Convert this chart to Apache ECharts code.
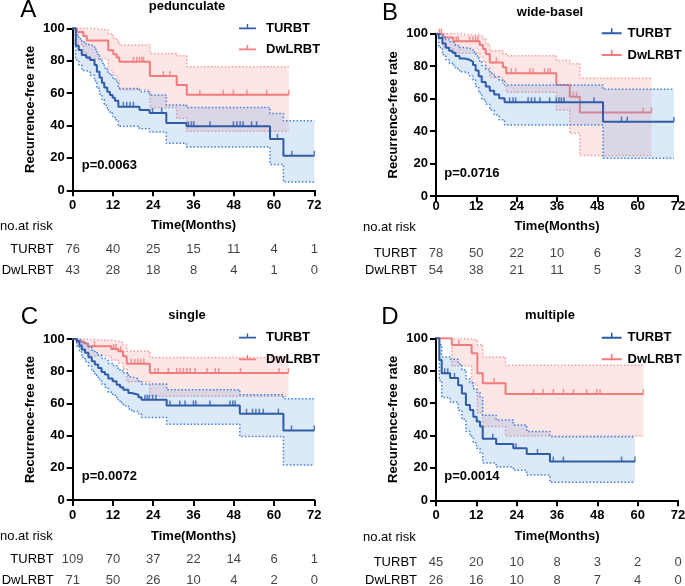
<!DOCTYPE html>
<html><head><meta charset="utf-8">
<script src="https://cdn.jsdelivr.net/npm/echarts@6/dist/echarts.min.js"></script>
<style>html,body{margin:0;padding:0;background:#fff}#c{width:685px;height:586px}</style>
</head><body><div id="c"></div>
<script>
// ---------- shared ----------
const xTicks = [0, 12, 24, 36, 48, 60, 72];
const groups = ['TURBT', 'DwLRBT'];

// ---------- Panel A : pedunculate ----------
const aT_time  = [0, 0.9, 1.8, 2.7, 4.0, 5.2, 6.5, 7.2, 8.0, 8.7, 9.4, 10.3, 11.1, 11.9, 12.6, 13.6, 19.9, 22.9, 27.9, 33.9, 58.8, 62.8];
const aT_surv  = [100, 89.3, 86.6, 83.5, 82.0, 80.4, 77.3, 73.2, 69.7, 66.4, 63.5, 60.8, 58.8, 57.1, 55.3, 51.5, 49.6, 47.7, 41.6, 39.5, 31.7, 21.4];
const aT_upper = [100, 96.0, 93.5, 91.5, 90.0, 89.0, 87.0, 84.0, 81.0, 78.5, 75.5, 73.0, 71.0, 69.5, 67.5, 62.9, 61.0, 58.8, 52.6, 51.1, 47.4, 42.9];
const aT_lower = [100, 80.5, 77.5, 74.0, 73.0, 71.0, 67.5, 63.0, 59.5, 56.0, 52.5, 49.5, 47.5, 45.5, 43.5, 39.5, 38.0, 36.0, 29.0, 26.8, 16.0, 5.2];
const aT_end   = 72;
const aT_cens  = [15.1, 16.1, 17.1, 18.1, 23.8, 26.5, 34.5, 35.4, 36.1, 40.9, 47.9, 48.9, 49.9, 50.8, 53.3, 54.8, 61.0, 65.3, 72];
const aD_time  = [0, 1.2, 3.2, 4.2, 10.6, 12.1, 13.1, 13.9, 23.0, 31.0, 34.0];
const aD_surv  = [100, 97.7, 95.3, 92.4, 86.5, 84.0, 82.0, 79.3, 70.5, 65.0, 59.0];
const aD_upper = [100, 100, 100, 99.0, 96.5, 93.8, 92.0, 89.7, 84.5, 83.0, 76.3];
const aD_lower = [100, 90.0, 85.0, 81.0, 74.0, 71.0, 68.5, 62.0, 51.0, 44.5, 36.5];
const aD_end   = 64.4;
const aD_cens  = [18.1, 19.1, 19.9, 20.6, 21.1, 27.0, 29.0, 37.9, 44.9, 47.9, 51.9, 57.8, 64.4];
const aRisk_T  = [76, 40, 25, 15, 11, 4, 1];
const aRisk_D  = [43, 28, 18, 8, 4, 1, 0];

// ---------- Panel B : wide-basel ----------
const bT_time  = [0, 0.8, 1.9, 2.9, 3.9, 4.9, 5.8, 7.0, 8.5, 10.0, 11.0, 11.8, 12.7, 13.6, 14.8, 16.0, 17.3, 18.8, 20.4, 49.7];
const bT_surv  = [100, 97.4, 94.0, 91.4, 89.5, 88.2, 86.3, 84.7, 83.9, 82.8, 80.7, 77.4, 73.8, 70.3, 67.5, 64.8, 62.5, 60.2, 57.7, 45.8];
const bT_upper = [100, 99.4, 98.0, 96.3, 95.0, 94.2, 92.8, 91.5, 91.0, 90.3, 88.8, 86.3, 83.3, 80.4, 78.0, 75.6, 73.5, 71.3, 68.4, 65.7];
const bT_lower = [100, 91.5, 87.0, 84.0, 82.0, 80.5, 78.5, 76.5, 75.5, 74.0, 71.5, 67.5, 63.5, 59.5, 56.5, 53.0, 50.0, 47.0, 43.7, 23.2];
const bT_end   = 70.8;
const bT_cens  = [21.9, 22.9, 23.7, 27.4, 28.4, 29.4, 30.9, 33.8, 35.8, 36.6, 37.3, 38.1, 47.0, 55.2, 56.9, 70.8];
const bD_time  = [0, 2.1, 5.1, 13.0, 14.0, 14.8, 16.0, 19.9, 20.9, 35.8, 39.8, 42.8];
const bD_surv  = [100, 97.7, 95.3, 93.0, 90.6, 87.5, 82.3, 79.3, 75.7, 68.4, 61.2, 51.5];
const bD_upper = [100, 100, 99.2, 98.5, 96.7, 93.6, 89.5, 87.8, 86.4, 83.5, 81.5, 72.5];
const bD_lower = [100, 91.5, 88.0, 85.5, 82.5, 79.0, 73.0, 69.5, 64.0, 53.0, 38.6, 25.0];
const bD_end   = 64.1;
const bD_cens  = [1.0, 1.6, 6.0, 6.6, 10.0, 11.0, 11.8, 12.5, 18.0, 22.4, 23.7, 27.9, 28.9, 32.3, 33.3, 34.0, 40.8, 41.8, 61.6, 64.1];
const bRisk_T  = [78, 50, 22, 10, 6, 3, 2];
const bRisk_D  = [54, 38, 21, 11, 5, 3, 0];

// ---------- Panel C : single ----------
const cT_time  = [0, 1.2, 2.0, 2.7, 3.7, 4.7, 5.7, 6.6, 7.6, 8.6, 9.6, 10.6, 11.9, 13.1, 14.1, 15.1, 16.6, 17.6, 19.6, 20.5, 28.0, 49.8, 62.8];
const cT_surv  = [100, 98.6, 96.0, 93.5, 91.4, 88.7, 86.2, 84.1, 82.0, 79.5, 77.9, 75.4, 73.7, 71.6, 70.0, 68.5, 66.5, 65.4, 63.8, 62.3, 58.7, 53.6, 43.2];
const cT_upper = [100, 100, 99.3, 98.0, 96.8, 95.0, 93.0, 91.5, 90.0, 88.0, 86.8, 84.8, 83.5, 81.8, 80.5, 79.0, 76.5, 75.3, 73.5, 72.0, 68.5, 65.4, 62.9];
const cT_lower = [100, 95.5, 92.0, 88.5, 86.0, 83.0, 80.0, 77.5, 75.0, 72.0, 70.0, 67.0, 65.0, 62.5, 60.5, 58.5, 56.5, 55.0, 53.5, 51.3, 47.1, 39.5, 21.8];
const cT_end   = 72;
const cT_cens  = [21.5, 22.2, 22.8, 23.8, 24.8, 29.0, 31.9, 33.5, 36.0, 36.7, 40.9, 46.9, 47.7, 48.4, 51.8, 53.6, 54.6, 55.6, 56.8, 61.3, 65.2, 72];
const cD_time  = [0, 1.4, 3.2, 4.5, 11.5, 13.6, 15.0, 16.1, 23.0];
const cD_surv  = [100, 98.6, 97.2, 95.5, 93.8, 92.4, 89.3, 84.7, 78.9];
const cD_upper = [100, 100, 99.8, 99.2, 98.5, 98.0, 96.3, 92.4, 88.5];
const cD_lower = [100, 95.0, 92.0, 89.5, 87.0, 85.0, 81.5, 73.5, 64.4];
const cD_end   = 64.3;
const cD_cens  = [6.5, 12.2, 12.9, 14.3, 17.5, 18.5, 19.5, 20.3, 21.2, 24.5, 25.5, 28.5, 31.0, 32.0, 33.0, 34.0, 35.0, 36.5, 40.0, 42.5, 43.5, 50.0, 61.5, 64.3];
const cRisk_T  = [109, 70, 37, 22, 14, 6, 1];
const cRisk_D  = [71, 50, 26, 10, 4, 2, 0];

// ---------- Panel D : multiple ----------
const dT_time  = [0, 1.0, 1.7, 4.2, 6.6, 7.7, 8.9, 10.1, 11.1, 12.1, 13.1, 13.9, 17.9, 23.0, 27.0, 33.9];
const dT_surv  = [100, 86.6, 78.4, 75.5, 71.0, 66.0, 58.8, 55.8, 51.6, 48.6, 45.5, 38.0, 34.8, 32.1, 28.6, 23.9];
const dT_upper = [100, 96.0, 88.5, 87.0, 84.0, 80.5, 75.0, 72.5, 69.0, 66.5, 63.5, 52.5, 49.6, 46.5, 42.4, 39.3];
const dT_lower = [100, 74.0, 63.5, 60.5, 55.5, 50.0, 42.5, 39.5, 35.5, 32.0, 29.0, 23.0, 20.5, 18.5, 15.6, 11.1];
const dT_end   = 59.2;
const dT_cens  = [2.6, 3.5, 5.5, 16.9, 23.8, 30.2, 34.9, 37.9, 55.2, 59.2];
const dD_time  = [0, 4.7, 10.6, 12.3, 13.9, 20.7];
const dD_surv  = [100, 95.9, 90.7, 78.4, 72.2, 65.6];
const dD_upper = [100, 99.5, 99.0, 96.0, 88.5, 83.3];
const dD_lower = [100, 83.0, 72.0, 54.0, 45.5, 39.7];
const dD_end   = 61.7;
const dD_cens  = [6.8, 17.3, 29.0, 31.9, 34.9, 37.9, 40.9, 44.8, 47.8, 48.8, 61.7];
const dRisk_T  = [45, 20, 10, 8, 3, 2, 0];
const dRisk_D  = [26, 16, 10, 8, 7, 4, 0];

// ---------- layout / styles ----------
const FONT = '"Liberation Sans", Arial, Helvetica, sans-serif';
const BLUE = '#2E5CA8', BLUE_DOT = '#3C7FE0', BLUE_FILL = 'rgba(110,165,232,0.24)';
const PINK = '#F37B7B', PINK_DOT = '#F59C9C', PINK_FILL = 'rgba(245,140,140,0.22)';

const panels = [
  { letter: 'A', title: 'pedunculate', p: 'p=0.0063',
    T: {time: aT_time, surv: aT_surv, upper: aT_upper, lower: aT_lower, end: aT_end, cens: aT_cens},
    D: {time: aD_time, surv: aD_surv, upper: aD_upper, lower: aD_lower, end: aD_end, cens: aD_cens},
    riskT: aRisk_T, riskD: aRisk_D,
    L: {left: 72.7, top: 28.3, width: 241.6, height: 162, rTop: 238.5, rH: 42, xMargin: 9, xNameGap: 29,
        legLeft: 239, legTop: 21.3, legW: 17, legGap: 7, legPad: 5,
        letter: [28.3, 10.8], title: [187, 6.5], pv: [81.7, 165.5], nar: [0, 226.7]} },
  { letter: 'B', title: 'wide-basel', p: 'p=0.0716',
    T: {time: bT_time, surv: bT_surv, upper: bT_upper, lower: bT_lower, end: bT_end, cens: bT_cens},
    D: {time: bD_time, surv: bD_surv, upper: bD_upper, lower: bD_lower, end: bD_end, cens: bD_cens},
    riskT: bRisk_T, riskD: bRisk_D,
    L: {left: 436, top: 33.7, width: 242, height: 162.3, rTop: 244.5, rH: 34, xMargin: 4, xNameGap: 24,
        legLeft: 601.7, legTop: 26.3, legW: 21.6, legGap: 7.7, legPad: 0,
        letter: [390, 13.5], title: [550, 12], pv: [444.3, 173], nar: [363, 227]} },
  { letter: 'C', title: 'single', p: 'p=0.0072',
    T: {time: cT_time, surv: cT_surv, upper: cT_upper, lower: cT_lower, end: cT_end, cens: cT_cens},
    D: {time: cD_time, surv: cD_surv, upper: cD_upper, lower: cD_lower, end: cD_end, cens: cD_cens},
    riskT: cRisk_T, riskD: cRisk_D,
    L: {left: 72.7, top: 339, width: 241.6, height: 161, rTop: 548.5, rH: 42, xMargin: 9, xNameGap: 29.5,
        legLeft: 239, legTop: 330.7, legW: 17, legGap: 7.6, legPad: 5,
        letter: [29.3, 317.5], title: [187, 315], pv: [81.7, 476.5], nar: [0, 536.7]} },
  { letter: 'D', title: 'multiple', p: 'p=0.0014',
    T: {time: dT_time, surv: dT_surv, upper: dT_upper, lower: dT_lower, end: dT_end, cens: dT_cens},
    D: {time: dD_time, surv: dD_surv, upper: dD_upper, lower: dD_lower, end: dD_end, cens: dD_cens},
    riskT: dRisk_T, riskD: dRisk_D,
    L: {left: 436, top: 338.3, width: 242, height: 162, rTop: 554, rH: 35, xMargin: 9, xNameGap: 29.5,
        legLeft: 601.7, legTop: 330.7, legW: 21.6, legGap: 7.6, legPad: 0,
        letter: [390, 317], title: [550, 315], pv: [444.3, 476.5], nar: [363, 537]} }
];

function survAt(g, t) {
  let v = g.surv[0];
  for (let i = 0; i < g.time.length; i++) if (g.time[i] <= t) v = g.surv[i];
  return v;
}

function bandRender(fill) {
  return function (params, api) {
    if (params.dataIndexInside !== 0) return;
    const n = params.dataInsideLength;
    const top = [], bot = [];
    for (let i = 0; i < n - 1; i++) {
      const t0 = api.value(0, i), t1 = api.value(0, i + 1);
      const lo = api.value(1, i), up = api.value(2, i);
      top.push(api.coord([t0, up]), api.coord([t1, up]));
      bot.push(api.coord([t0, lo]), api.coord([t1, lo]));
    }
    return { type: 'polygon', shape: { points: top.concat(bot.reverse()) }, style: { fill: fill } };
  };
}

const LEG_ICON = 'path://M0,4H20V6H0Z M9.2,0H10.8V4H9.2Z M9.2,10H10.8V10.01H9.2Z';

const option = {
  animation: false, backgroundColor: '#fff', textStyle: { fontFamily: FONT },
  grid: [], xAxis: [], yAxis: [], series: [], legend: [], graphic: []
};

function addGroup(k, g, name, color, dot, fill, z) {
  const n = g.time.length;
  const withEnd = (arr) => g.time.map((t, i) => [t, arr[i]]).concat([[g.end, arr[n - 1]]]);
  const band = g.time.map((t, i) => [t, g.lower[i], g.upper[i]]).concat([[g.end, g.lower[n - 1], g.upper[n - 1]]]);
  const ax = { xAxisIndex: 2 * k, yAxisIndex: 2 * k };
  option.series.push(Object.assign({ type: 'custom', name: name + ' band', data: band, encode: { x: 0, y: [1, 2] },
    renderItem: bandRender(fill), z: z, silent: true }, ax));
  ['upper', 'lower'].forEach(key => option.series.push(Object.assign({ type: 'line', name: name + ' ' + key, step: 'end',
    data: withEnd(g[key]), symbol: 'none', silent: true, z: z + 1,
    lineStyle: { color: dot, width: 1.5, type: [1.5, 2] } }, ax)));
  option.series.push(Object.assign({ type: 'line', name: name, step: 'end', data: withEnd(g.surv), symbol: 'none',
    silent: true, z: z + 2, itemStyle: { color: color }, lineStyle: { color: color, width: 2 } }, ax));
  option.series.push(Object.assign({ type: 'scatter', name: name + ' censored', data: g.cens.map(t => [t, survAt(g, t)]),
    symbol: 'rect', symbolSize: [1.5, 5], symbolOffset: [0, -2.5], silent: true, z: z + 2,
    itemStyle: { color: color } }, ax));
}

panels.forEach((P, k) => {
  const L = P.L;
  option.grid.push({ left: L.left, top: L.top, width: L.width, height: L.height, containLabel: false, outerBoundsMode: 'none' });
  option.grid.push({ left: L.left, top: L.rTop, width: L.width, height: L.rH, containLabel: false, outerBoundsMode: 'none' });
  const axisLine = { lineStyle: { color: '#000', width: 2 } };
  const boldLbl = { color: '#000', fontWeight: 'bold', fontSize: 13, fontFamily: FONT };
  option.xAxis.push({ type: 'value', gridIndex: 2 * k, min: 0, max: 72, interval: 12,
    name: 'Time(Months)', nameLocation: 'middle', nameGap: L.xNameGap, nameTextStyle: boldLbl,
    axisLine: axisLine, axisTick: { length: 6, lineStyle: { color: '#000', width: 2 } },
    axisLabel: Object.assign({ margin: L.xMargin }, boldLbl), splitLine: { show: false } });
  option.yAxis.push({ type: 'value', gridIndex: 2 * k, min: 0, max: 100, interval: 20,
    name: 'Recurrence-free rate', nameLocation: 'middle', nameGap: 36, nameRotate: 90, nameTextStyle: boldLbl,
    axisLine: Object.assign({ show: true }, axisLine), axisTick: { show: true, length: 6, lineStyle: { color: '#000', width: 2 } },
    axisLabel: Object.assign({ margin: 8 }, boldLbl), splitLine: { show: false } });
  option.xAxis.push({ type: 'value', gridIndex: 2 * k + 1, min: 0, max: 72, show: false });
  option.yAxis.push({ type: 'category', gridIndex: 2 * k + 1, data: groups, inverse: true,
    axisLine: { show: false }, axisTick: { show: false }, splitLine: { show: false },
    axisLabel: { color: '#000', fontSize: 13, margin: 19, fontFamily: FONT } });

  addGroup(k, P.D, 'DwLRBT', PINK, PINK_DOT, PINK_FILL, 2);
  addGroup(k, P.T, 'TURBT', BLUE, BLUE_DOT, BLUE_FILL, 5);

  const riskData = [];
  xTicks.forEach((t, i) => { riskData.push([t, groups[0], P.riskT[i]]); riskData.push([t, groups[1], P.riskD[i]]); });
  option.series.push({ type: 'scatter', name: 'risk', xAxisIndex: 2 * k + 1, yAxisIndex: 2 * k + 1, data: riskData,
    symbolSize: 0, silent: true,
    label: { show: true, position: 'inside', formatter: p => String(p.value[2]), color: '#111', fontSize: 13, fontFamily: FONT } });

  option.legend.push({ orient: 'vertical', left: L.legLeft, top: L.legTop, padding: 0, itemWidth: L.legW, itemHeight: 10,
    itemGap: L.legGap, selectedMode: false, itemStyle: { borderWidth: 0 },
    textStyle: { color: '#000', fontWeight: 'bold', fontSize: 13, fontFamily: FONT, lineHeight: 14, padding: [0, 0, 0, L.legPad] },
    data: [{ name: 'TURBT', icon: LEG_ICON }, { name: 'DwLRBT', icon: LEG_ICON }] });

  const txt = (x, y, text, font, align) => ({ type: 'text', silent: true, z: 50,
    style: { x: x, y: y, text: text, font: font, fill: '#000', align: align, verticalAlign: 'middle' } });
  option.graphic.push(txt(L.letter[0], L.letter[1], P.letter, '24px ' + FONT, 'center'));
  option.graphic.push(txt(L.title[0], L.title[1], P.title, 'bold 13px ' + FONT, 'center'));
  option.graphic.push(txt(L.pv[0], L.pv[1], P.p, 'bold 13px ' + FONT, 'left'));
  option.graphic.push(txt(L.nar[0], L.nar[1], 'no.at risk', '13px ' + FONT, 'left'));
});

const chart = echarts.init(document.getElementById('c'), null, { renderer: 'canvas' });
chart.setOption(option);
</script></body></html>
